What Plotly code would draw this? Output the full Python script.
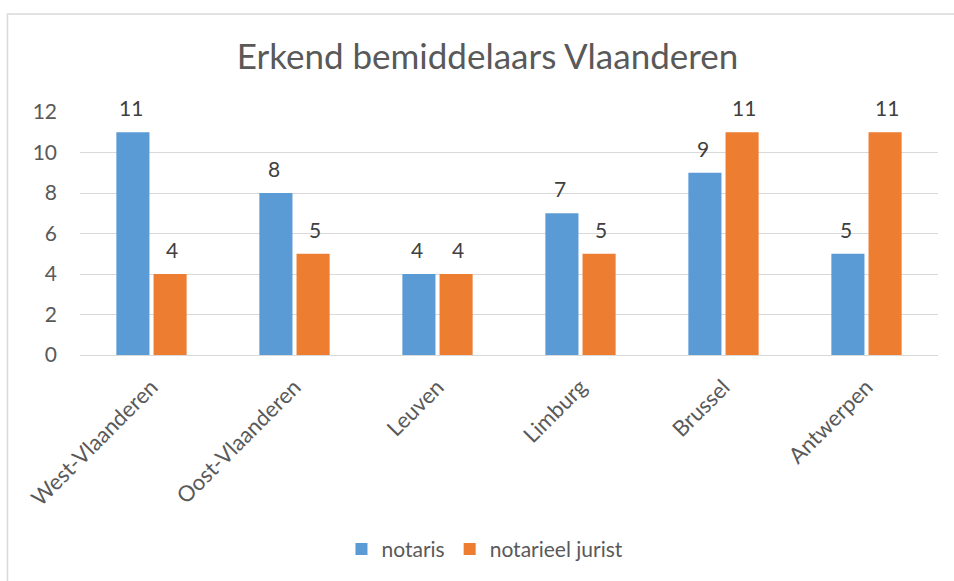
import plotly.graph_objects as go

categories = ["West-Vlaanderen", "Oost-Vlaanderen", "Leuven", "Limburg", "Brussel", "Antwerpen"]
notaris = [11, 8, 4, 7, 9, 5]
notarieel_jurist = [4, 5, 4, 5, 11, 11]
y_ticks = [0, 2, 4, 6, 8, 10, 12]

FONT = "Lato"
TXT = "#595959"
LBL = "#404040"

fig = go.Figure()
fig.add_trace(go.Bar(
    x=categories, y=notaris, name="notaris",
    marker=dict(color="#5B9BD5", line=dict(width=0)),
))
fig.add_trace(go.Bar(
    x=categories, y=notarieel_jurist, name="notarieel jurist",
    marker=dict(color="#ED7D31", line=dict(width=0)),
))

annotations = []
for series, shift in ((notaris, -20.5), (notarieel_jurist, 20.5)):
    for cat, val in zip(categories, series):
        annotations.append(dict(
            x=cat, y=val, xref="x", yref="y", text=str(val), showarrow=False,
            xshift=shift, yshift=10, yanchor="bottom", xanchor="center",
            font=dict(family=FONT, size=21, color=LBL),
        ))

fig.update_layout(
    width=954, height=581,
    margin=dict(l=80, r=16, t=112, b=226, autoexpand=False),
    paper_bgcolor="white", plot_bgcolor="white",
    barmode="group", bargap=0.48, bargroupgap=0.11,
    font=dict(family=FONT, color=TXT, size=20),
    title=dict(text="Erkend bemiddelaars Vlaanderen", x=0.511, xref="container",
               xanchor="center", y=0.902, yref="container", yanchor="middle",
               font=dict(family=FONT, size=35, color=TXT)),
    showlegend=True,
    legend=dict(orientation="h", x=0.472, xanchor="center", y=-0.80, yanchor="middle",
                font=dict(family=FONT, size=21, color=TXT), itemwidth=30,
                traceorder="normal"),
    xaxis=dict(tickangle=-45, showgrid=False, showline=False, ticks="",
               ticklabelstandoff=14,
               tickfont=dict(family=FONT, size=22, color=TXT)),
    yaxis=dict(range=[0, 12], tickvals=y_ticks, showgrid=True, gridcolor="#D9D9D9",
               gridwidth=1, zeroline=True, zerolinecolor="#D9D9D9", zerolinewidth=1,
               showline=False, ticks="", ticklabelstandoff=22,
               tickfont=dict(family=FONT, size=21, color=TXT)),
    annotations=annotations,
    shapes=[dict(type="rect", xref="paper", yref="paper",
                 x0=-0.0845, x1=1.5, y0=-3, y1=1.403,
                 line=dict(color="#D9D9D9", width=1.5), layer="below")],
)

fig.write_html("out.html", config={"displayModeBar": False},
               post_script="document.body.style.margin='0';")
